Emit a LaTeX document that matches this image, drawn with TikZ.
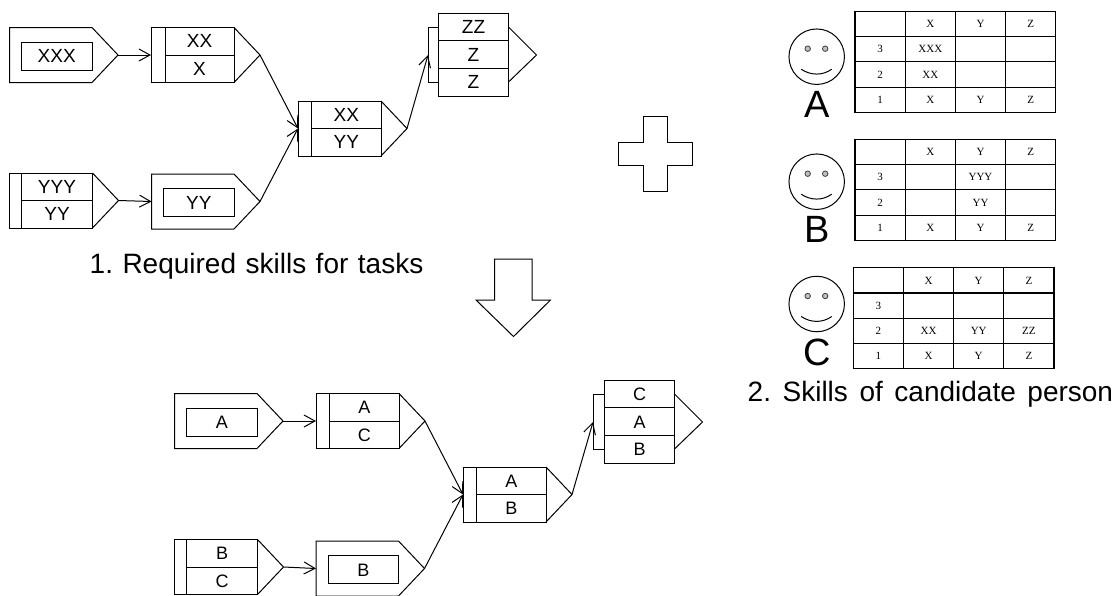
\documentclass[tikz,border=0pt]{standalone}
\usepackage{fontspec}
\setmainfont{Liberation Sans}
\newfontfamily\tblfont{Liberation Serif}
\newfontfamily\capfont[WordSpace=1.45]{Liberation Sans}
\newfontfamily\capfontb[WordSpace=1.22]{Liberation Sans}
\usetikzlibrary{arrows.meta}
\newcommand{\bxf}{\fontsize{19}{19}\selectfont}
\tikzset{
  ln/.style={draw=black,line width=1pt,line join=miter},
  lbl/.style={ln,font=\bxf,text height=13.4pt,text depth=0pt,inner sep=0pt,outer sep=0pt,anchor=center},
  flow/.style={draw=black,line width=1pt,-{Straight Barb[length=11pt,width=12pt,line width=1pt]}},
  cel/.style={draw=black,line width=1.15pt,font=\tblfont\fontsize{11}{11}\selectfont,text height=7.3pt,text depth=0pt,
    inner sep=0pt,outer sep=0pt,minimum width=50.2pt,minimum height=25.2pt,anchor=center},
  captxt/.style={font=\capfont\fontsize{28}{28}\selectfont\frenchspacing,inner sep=0pt,anchor=base west},
  captxtb/.style={font=\capfontb\fontsize{28}{28}\selectfont\frenchspacing,inner sep=0pt,anchor=base west},
  bigtxt/.style={font=\fontsize{38}{38}\selectfont,inner sep=0pt,anchor=base},
  eyedot/.style={draw=black!75,fill=black!25,line width=.8pt,circle,inner sep=0pt,minimum size=5.5pt},
  facering/.style={draw=black,line width=1pt,circle,inner sep=0pt,minimum size=55.5pt},
}
% pentagon with an inner box
\newcommand{\pent}[4]{\begin{scope}[shift={(#2,#3)}]
  \draw[ln] (0,0) -- (82.5,0) -- (108.5,27.5) -- (82.5,55) -- (0,55) -- cycle;
  \node[lbl,minimum width=70.5pt,minimum height=28pt] (#1) at (47.25,28.5) {#4};
  \coordinate (#1-in) at (0,27.5);
  \coordinate (#1-tip) at (108.5,27.5);
\end{scope}}
% two stacked rows with a side strip and a triangle
\newcommand{\stk}[6]{\begin{scope}[shift={(#2,#3)}]
  \draw[ln] (0,0) rectangle (#4,55);
  \draw[ln] (83,0) -- (109,27.5) -- (83,55);
  \node[lbl,minimum width={83pt-#4pt},minimum height=27.5pt] (#1-a) at ({(83+#4)/2},13.75) {#5};
  \node[lbl,minimum width={83pt-#4pt},minimum height=27.5pt] (#1-b) at ({(83+#4)/2},41.25) {#6};
  \coordinate (#1-in) at (0,27.5);
  \coordinate (#1-tip) at (109,27.5);
\end{scope}}
% three stacked rows with a bracket and a triangle
\newcommand{\trp}[7]{\begin{scope}[shift={(#2,#3)}]
  \draw[ln] (0,14) -- (-#4,14) -- (-#4,69) -- (0,69);
  \draw[ln] (70,14) -- (98,42) -- (70,69);
  \node[lbl,minimum width=70pt,minimum height=27.7pt] (#1-a) at (35,13.85) {#5};
  \node[lbl,minimum width=70pt,minimum height=27.7pt] (#1-b) at (35,41.55) {#6};
  \node[lbl,minimum width=70pt,minimum height=27.7pt] (#1-c) at (35,69.25) {#7};
  \coordinate (#1-in) at (-#4,42);
\end{scope}}
% one smiley with its letter and skill table
\newcommand{\skcell}[4]{\node[cel] (#1-#3-#2) at ({25.1+50.2*#2},{12.6+25.2*#3}) {#4};}
\newcommand{\sktbl}[9]{\begin{scope}[shift={(#2,#3)}]
  \skcell{#1}{0}{0}{} \skcell{#1}{1}{0}{X} \skcell{#1}{2}{0}{Y} \skcell{#1}{3}{0}{Z}
  \skcell{#1}{0}{1}{3} \skcell{#1}{1}{1}{#4} \skcell{#1}{2}{1}{#5} \skcell{#1}{3}{1}{#6}
  \skcell{#1}{0}{2}{2} \skcell{#1}{1}{2}{#7} \skcell{#1}{2}{2}{#8} \skcell{#1}{3}{2}{#9}
  \skcell{#1}{0}{3}{1} \skcell{#1}{1}{3}{X} \skcell{#1}{2}{3}{Y} \skcell{#1}{3}{3}{Z}
\end{scope}}
\newcommand{\smiley}[4]{\begin{scope}[shift={(816.7,#2)}]
  \node[facering] (#1) at (0,0) {};
  \node[eyedot] (#1-l) at (-9,-8) {};
  \node[eyedot] (#1-r) at (8.5,-8) {};
  \draw[line width=1pt] (-15.5,12.5) .. controls (-6,19) and (6,19) .. (15,12.5);
  \node[bigtxt] (#1-name) at (0.5,#3) {#4};
\end{scope}}
\begin{document}
\begin{tikzpicture}[x=1pt,y=-1pt]
\useasboundingbox (0,0) rectangle (1116,595);
\clip (0,0) rectangle (1116,595);
\fill[white] (0,0) rectangle (1116,595);

% top flow
\pent{p1}{9.5}{27.5}{XXX}
\stk{s2}{151}{27.5}{14}{XX}{X}
\stk{s3}{9.5}{173}{12}{YYY}{YY}
\pent{p4}{151.5}{174}{YY}
\stk{m}{298}{101}{13.5}{XX}{YY}
\trp{t}{438.5}{13}{10.5}{ZZ}{Z}{Z}
\draw[flow] (p1-tip) -- (s2-in);
\draw[flow] (s3-tip) -- (p4-in);
\draw[flow] (s2-tip) -- (m-in);
\draw[flow] (p4-tip) -- (m-in);
\draw[flow] (m-tip) -- (t-in);
\node[captxtb] (cap1) at (89.5,273.5) {1. Required skills for tasks};

% plus
\draw[ln] (643,116) -- (667,116) -- (667,142) -- (692,142) -- (692,165) -- (667,165) -- (667,191) -- (643,191) -- (643,165) -- (618,165) -- (618,142) -- (643,142) -- cycle;
% big down arrow
\draw[ln] (494.5,259) -- (532,259) -- (532,300) -- (550.5,300) -- (513.5,336.5) -- (476,300) -- (494.5,300) -- cycle;

% bottom flow
\renewcommand{\bxf}{\fontsize{18}{18}\selectfont}
\pent{q1}{174.5}{393.5}{A}
\stk{u2}{316}{393.5}{13.5}{A}{C}
\stk{u3}{174.5}{539.5}{12}{B}{C}
\pent{q4}{316}{541}{B}
\stk{n}{463}{467}{13.5}{A}{B}
\trp{v}{604.5}{380}{11.5}{C}{A}{B}
\draw[flow] (q1-tip) -- (u2-in);
\draw[flow] (u3-tip) -- (q4-in);
\draw[flow] (u2-tip) -- (n-in);
\draw[flow] (q4-tip) -- (n-in);
\draw[flow] (n-tip) -- (v-in);

% candidates
\smiley{fa}{56.7}{60.3}{A}
\smiley{fb}{181.7}{60.3}{B}
\smiley{fc}{304}{61}{C}
\sktbl{ta}{855}{11.5}{XXX}{}{}{XX}{}{}
\sktbl{tb}{855}{139.5}{}{YYY}{}{}{YY}{}
\sktbl{tc}{853.2}{267.8}{}{}{}{XX}{YY}{ZZ}
\node[captxt] (cap2) at (747.5,401) {2. Skills of candidate person};
\end{tikzpicture}
\end{document}
